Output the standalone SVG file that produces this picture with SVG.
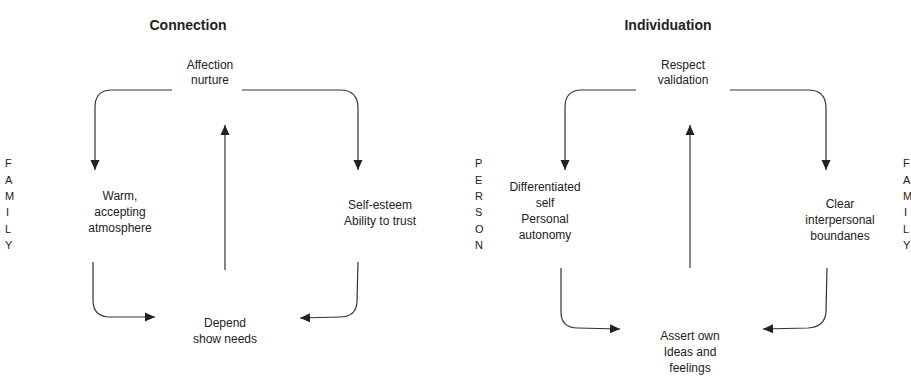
<svg xmlns="http://www.w3.org/2000/svg" width="911" height="385" viewBox="0 0 911 385">
<style>
  text { font-family: "Liberation Sans", Arial, sans-serif; fill: #222; }
  .title { font-size: 14px; font-weight: bold; text-anchor: middle; }
  .lbl { font-size: 12px; text-anchor: middle; }
  .side { font-size: 11px; }
  .conn path { fill: none; stroke: #333; stroke-width: 1.2; marker-end: url(#ah); }
</style>
<defs>
  <marker id="ah" viewBox="0 0 10 10" refX="10" refY="5" markerWidth="10" markerHeight="10" markerUnits="userSpaceOnUse" orient="auto">
    <path d="M0,0.5 L10,5 L0,9.5 z" fill="#222"/>
  </marker>
</defs>
<rect width="911" height="385" fill="#fff"/>

<text class="title" x="188" y="30">Connection</text>
<text class="title" x="668" y="30">Individuation</text>

<g id="family-left" class="side">
  <text x="5" y="167">F</text><text x="5" y="184">A</text><text x="5" y="200">M</text>
  <text x="6" y="216">I</text><text x="5" y="233">L</text><text x="5" y="249">Y</text>
</g>
<g id="person" class="side">
  <text x="475" y="167">P</text><text x="475" y="184">E</text><text x="475" y="200">R</text>
  <text x="475" y="216">S</text><text x="475" y="233">O</text><text x="475" y="249">N</text>
</g>
<g id="family-right" class="side">
  <text x="903" y="167">F</text><text x="903" y="184">A</text><text x="903" y="200">M</text>
  <text x="904" y="216">I</text><text x="903" y="233">L</text><text x="903" y="249">Y</text>
</g>

<g id="affection"><text class="lbl" x="210" y="69">Affection</text><text class="lbl" x="210" y="84">nurture</text></g>
<g id="warm"><text class="lbl" x="120" y="200">Warm,</text><text class="lbl" x="120" y="216">accepting</text><text class="lbl" x="120" y="232">atmosphere</text></g>
<g id="selfesteem"><text class="lbl" x="380" y="209">Self-esteem</text><text class="lbl" x="380" y="225">Ability to trust</text></g>
<g id="depend"><text class="lbl" x="225" y="327">Depend</text><text class="lbl" x="225" y="343">show needs</text></g>

<g id="respect"><text class="lbl" x="683" y="69">Respect</text><text class="lbl" x="683" y="84">validation</text></g>
<g id="differentiated"><text class="lbl" x="545" y="191">Differentiated</text><text class="lbl" x="545" y="207">self</text><text class="lbl" x="545" y="223">Personal</text><text class="lbl" x="545" y="239">autonomy</text></g>
<g id="clear"><text class="lbl" x="840" y="208">Clear</text><text class="lbl" x="840" y="224">interpersonal</text><text class="lbl" x="840" y="240">boundanes</text></g>
<g id="assert"><text class="lbl" x="690" y="340">Assert own</text><text class="lbl" x="690" y="356">Ideas and</text><text class="lbl" x="690" y="372">feelings</text></g>

<g id="connectors" class="conn">
  <path d="M172,90 L112,90 Q95,90 95,107 L95,170"/>
  <path d="M242,90 L340,90 Q358,90 358,108 L358,170"/>
  <path d="M225,270 L225,125"/>
  <path d="M93,262 L93,300 Q93,317 110,317 L155,317"/>
  <path d="M358,262 L357,302 Q356,317 340,317 L300,318"/>

  <path d="M636,90 L582,90 Q565,90 565,107 L565,170"/>
  <path d="M730,90 L808,90 Q826,90 826,108 L826,170"/>
  <path d="M690,268 L690,125"/>
  <path d="M561,268 L561,312 Q561,328 578,328 L620,329"/>
  <path d="M827,268 L826,312 Q825,327 808,328 L763,329"/>
</g>
</svg>
